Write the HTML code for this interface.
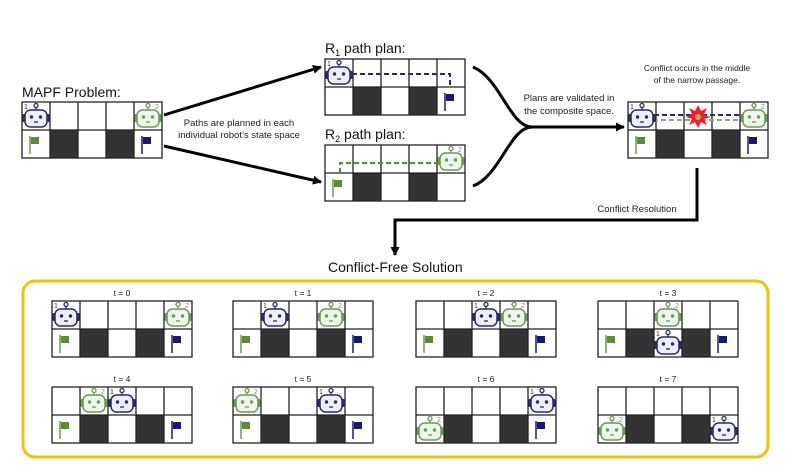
<!DOCTYPE html>
<html><head><meta charset="utf-8"><style>
html,body{margin:0;padding:0;background:#fff;}
svg{display:block;font-family:"Liberation Sans",sans-serif;}
</style></head><body>
<svg width="804" height="468" viewBox="0 0 804 468" xmlns="http://www.w3.org/2000/svg">
<defs>
<g id="grid">
  <rect x="0" y="0" width="140" height="56" fill="#fff"/>
  <rect x="28" y="28" width="28" height="28" fill="#333"/>
  <rect x="84" y="28" width="28" height="28" fill="#333"/>
  <g fill="none" stroke="#222" stroke-width="1.3">
    <rect x="0" y="0" width="140" height="56"/>
    <line x1="0" y1="28" x2="140" y2="28"/>
    <line x1="28" y1="0" x2="28" y2="56"/><line x1="56" y1="0" x2="56" y2="56"/>
    <line x1="84" y1="0" x2="84" y2="56"/><line x1="112" y1="0" x2="112" y2="56"/>
  </g>
</g>
<g id="gflag"><line x1="8" y1="34" x2="8" y2="52" stroke="#6a9a4a" stroke-width="1.5"/><rect x="9" y="35" width="8" height="7" fill="#5a8a3a"/></g>
<g id="bflag"><line x1="120" y1="34" x2="120" y2="52" stroke="#1a1a6a" stroke-width="1.5"/><rect x="121" y="35" width="8" height="7" fill="#1a1a6a"/></g>
<g id="bot1">
  <circle cx="14" cy="3.5" r="2" fill="none" stroke="#2a2a6a" stroke-width="1.3"/>
  <line x1="14" y1="5.5" x2="14" y2="8" stroke="#2a2a6a" stroke-width="1.3"/>
  <rect x="0.5" y="12" width="3" height="8" rx="1" fill="#2a2a6a"/><rect x="24.5" y="12" width="3" height="8" rx="1" fill="#2a2a6a"/>
  <rect x="3" y="8" width="22" height="17" rx="5.5" fill="#eef" stroke="#2a2a6a" stroke-width="1.5"/>
  <circle cx="9.5" cy="15" r="1.7" fill="#2a2a6a"/><circle cx="18.5" cy="15" r="1.7" fill="#2a2a6a"/>
  <line x1="12" y1="20" x2="16" y2="20" stroke="#2a2a6a" stroke-width="1.3"/>
  <text x="2" y="7" font-size="7" fill="#2a2a6a">1</text>
</g>
<g id="bot2">
  <circle cx="14" cy="3.5" r="2" fill="none" stroke="#6a9a5a" stroke-width="1.3"/>
  <line x1="14" y1="5.5" x2="14" y2="8" stroke="#6a9a5a" stroke-width="1.3"/>
  <rect x="0.5" y="12" width="3" height="8" rx="1" fill="#6a9a5a"/><rect x="24.5" y="12" width="3" height="8" rx="1" fill="#6a9a5a"/>
  <rect x="3" y="8" width="22" height="17" rx="5.5" fill="#eef5ea" stroke="#6a9a5a" stroke-width="1.5"/>
  <circle cx="9.5" cy="15" r="1.7" fill="#6a9a5a"/><circle cx="18.5" cy="15" r="1.7" fill="#6a9a5a"/>
  <line x1="12" y1="20" x2="16" y2="20" stroke="#6a9a5a" stroke-width="1.3"/>
  <text x="21" y="7" font-size="7" fill="#6a9a5a">2</text>
</g>
<marker id="ah" markerWidth="9" markerHeight="9" refX="8" refY="4.5" orient="auto" markerUnits="userSpaceOnUse"><path d="M0,0 L9,4.5 L0,9 z" fill="#000"/></marker>
</defs>

<text x="22" y="97" font-size="14" fill="#111">MAPF Problem:</text>
<g transform="translate(22,102)"><use href="#grid"/><use href="#gflag"/><use href="#bflag"/><use href="#bot1"/><use href="#bot2" x="112"/></g>

<line x1="164" y1="115" x2="321" y2="67" stroke="#000" stroke-width="3" marker-end="url(#ah)"/>
<line x1="164" y1="146" x2="321" y2="182" stroke="#000" stroke-width="3" marker-end="url(#ah)"/>
<text x="239" y="126" font-size="9.5" text-anchor="middle" fill="#222">Paths are planned in each</text>
<text x="239" y="138" font-size="9.5" text-anchor="middle" fill="#222">individual robot’s state space</text>

<text x="325" y="53" font-size="14" fill="#111">R<tspan font-size="9" dy="3">1</tspan><tspan dy="-3"> path plan:</tspan></text>
<g transform="translate(325,59)"><use href="#grid"/><use href="#bflag"/><use href="#bot1"/>
  <path d="M27,15 H125 V26" fill="none" stroke="#2a2a6a" stroke-width="2" stroke-dasharray="5,3"/>
</g>
<text x="325" y="139" font-size="14" fill="#111">R<tspan font-size="9" dy="3">2</tspan><tspan dy="-3"> path plan:</tspan></text>
<g transform="translate(325,145)"><use href="#grid"/><use href="#gflag"/><use href="#bot2" x="112"/>
  <path d="M114,18 H15 V30" fill="none" stroke="#5a8a3a" stroke-width="2" stroke-dasharray="5,3"/>
</g>

<path d="M473,67 C500,78 510,127 532,127" fill="none" stroke="#000" stroke-width="3"/>
<path d="M473,186 C500,176 510,127 532,127" fill="none" stroke="#000" stroke-width="3"/>
<line x1="530" y1="127" x2="624" y2="127" stroke="#000" stroke-width="3" marker-end="url(#ah)"/>
<text x="569" y="101" font-size="9.5" text-anchor="middle" fill="#222">Plans are validated in</text>
<text x="569" y="114" font-size="9.5" text-anchor="middle" fill="#222">the composite space.</text>

<text x="697" y="71" font-size="8.5" text-anchor="middle" fill="#222">Conflict occurs in the middle</text>
<text x="697" y="83" font-size="8.5" text-anchor="middle" fill="#222">of the narrow passage.</text>
<g transform="translate(628,102)"><use href="#grid"/><use href="#gflag"/><use href="#bflag"/>
  <path d="M26,13 H124" fill="none" stroke="#2a2a6a" stroke-width="2" stroke-dasharray="5,3"/>
  <path d="M118,18 H28" fill="none" stroke="#8aa88a" stroke-width="2" stroke-dasharray="5,3"/>
  <polygon points="70,3 73,9 79,6 76,12 82,15 76,17 79,23 73,20 70,26 67,20 61,23 64,17 58,15 64,12 61,6 67,9" fill="#e82030"/>
  <circle cx="70" cy="15" r="3" fill="#e8a060"/>
  <use href="#bot1"/><use href="#bot2" x="112"/>
</g>

<path d="M697,168 V220 H395 V255" fill="none" stroke="#000" stroke-width="3" marker-end="url(#ah)"/>
<text x="637" y="212" font-size="9.5" text-anchor="middle" fill="#222">Conflict Resolution</text>
<text x="328" y="272" font-size="14" fill="#111">Conflict-Free Solution</text>

<rect x="23" y="281" width="745" height="176" rx="12" fill="none" stroke="#f2c010" stroke-width="3"/>

<g font-size="8.5" text-anchor="middle" fill="#222">
<text x="122" y="296">t = 0</text><text x="303" y="296">t = 1</text><text x="486" y="296">t = 2</text><text x="668" y="296">t = 3</text>
<text x="122" y="382">t = 4</text><text x="303" y="382">t = 5</text><text x="486" y="382">t = 6</text><text x="668" y="382">t = 7</text>
</g>

<g transform="translate(52,301)"><use href="#grid"/><use href="#gflag"/><use href="#bflag"/><use href="#bot1"/><use href="#bot2" x="112"/></g>
<g transform="translate(233,301)"><use href="#grid"/><use href="#gflag"/><use href="#bflag"/><use href="#bot1" x="28"/><use href="#bot2" x="84"/></g>
<g transform="translate(416,301)"><use href="#grid"/><use href="#gflag"/><use href="#bflag"/><use href="#bot1" x="56"/><use href="#bot2" x="84"/></g>
<g transform="translate(598,301)"><use href="#grid"/><use href="#gflag"/><use href="#bflag"/><use href="#bot2" x="56"/><use href="#bot1" x="56" y="28"/></g>

<g transform="translate(52,387)"><use href="#grid"/><use href="#gflag"/><use href="#bflag"/><use href="#bot2" x="28"/><use href="#bot1" x="56"/></g>
<g transform="translate(233,387)"><use href="#grid"/><use href="#gflag"/><use href="#bflag"/><use href="#bot2"/><use href="#bot1" x="84"/></g>
<g transform="translate(416,387)"><use href="#grid"/><use href="#bflag"/><use href="#bot2" y="28"/><use href="#bot1" x="112"/></g>
<g transform="translate(598,387)"><use href="#grid"/><use href="#bot2" y="28"/><use href="#bot1" x="112" y="28"/></g>
</svg>
</body></html>
